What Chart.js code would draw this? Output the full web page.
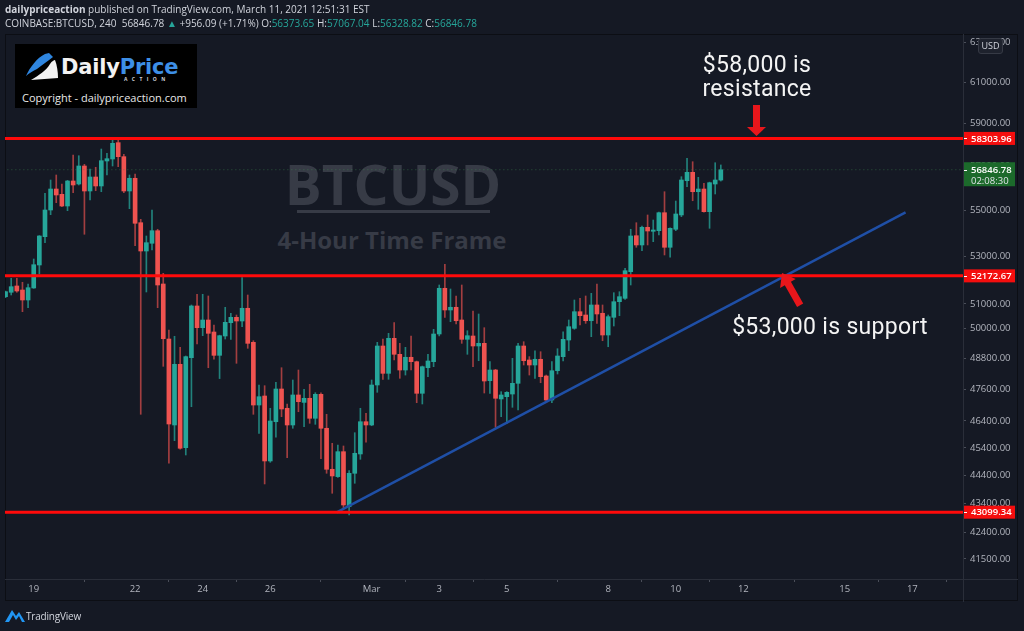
<!DOCTYPE html>
<html>
<head>
<meta charset="utf-8">
<script src="https://cdn.jsdelivr.net/npm/chart.js@4.4.0/dist/chart.umd.min.js"></script>
<style>
  html, body { margin: 0; padding: 0; background: #151924; }
  body { width: 1024px; height: 631px; position: relative; overflow: hidden; font-family: "Open Sans", sans-serif; color: #d1d4dc; }
  .abs { position: absolute; white-space: nowrap; }
  #panel { left: 5px; top: 34px; width: 1013px; height: 567px; border: 1px solid #0c0e14; box-sizing: border-box; z-index: 0; }
  #c { position: absolute; left: 0; top: 0; z-index: 1; }
  .over { z-index: 2; }
  .hdr { font-size: 10px; line-height: 14px; left: 5px; }
  .tv { color: #26a69a; }
  .wm { color: #373b46; font-weight: 700; text-align: center; z-index: 0; }
  .note { font-family: Roboto, sans-serif; font-size: 23px; line-height: 24px; color: #f4f4f4; text-align: center; letter-spacing: 0.3px; }
</style>
</head>
<body>
<div id="panel" class="abs"></div>

<!-- watermark -->
<div class="abs wm" style="left:193px; top:154px; width:400px; font-size:55px; line-height:60px;">BTCUSD</div>
<div class="abs" style="left:297px; top:210px; width:193px; height:3px; background:#373b46; z-index:0;"></div>
<div class="abs wm" style="left:192px; top:225px; width:400px; font-size:24px; line-height:30px;">4-Hour Time Frame</div>

<canvas id="c" width="1024" height="631"></canvas>

<!-- header -->
<div class="abs hdr over" style="top:2px;"><b>dailypriceaction</b> published on TradingView.com, March 11, 2021 12:51:31 EST</div>
<div class="abs hdr over" style="top:16px;">COINBASE:BTCUSD, 240&nbsp; 56846.78 <span class="tv">▲</span> +956.09 (+1.71%) O:<span class="tv">56373.65</span> H:<span class="tv">57067.04</span> L:<span class="tv">56328.82</span> C:<span class="tv">56846.78</span></div>

<!-- logo box -->
<div class="abs over" style="left:15px; top:44px; width:182px; height:64px; background:#000;">
  <svg class="abs" style="left:0; top:0;" width="50" height="42">
    <path d="M11 32 C 15 23, 22 14, 30 10 L 34 9 L 38 13 C 33 17, 27 21, 22 25 C 18 27, 14 29, 11 32 Z" fill="#2f86e0"/>
    <path d="M16 36 C 24 31, 31 27, 35 20 C 37 17, 39 16, 40 16 C 42 21, 43 28, 43 34 Z" fill="#f2f2f2"/>
  </svg>
  <div class="abs" style="left:46px; top:11px; font-family:'DejaVu Sans', sans-serif; font-weight:700; font-size:21px; line-height:24px; letter-spacing:-0.2px;"><span style="color:#f2f2f2">Daily</span><span style="color:#3d8fe6">Price</span></div>
  <div class="abs" style="left:109px; top:32px; font-size:5px; line-height:6px; letter-spacing:4.4px; color:#cfd2d8; font-weight:700;">ACTION</div>
  <div class="abs" style="left:7px; top:47px; font-size:11px; line-height:14px; color:#e8e8e8;">Copyright - dailypriceaction.com</div>
</div>

<!-- annotations -->
<div class="abs note over" style="left:657px; top:53px; width:200px;">$58,000 is<br>resistance</div>
<div class="abs note over" style="left:730px; top:315px; width:200px;">$53,000 is support</div>
<svg class="abs over" style="left:0; top:0;" width="1024" height="631">
  <polygon points="753,105 760,105 760,127 766,127 756.5,136 747,127 753,127" fill="#e8161b"/>
  <polygon points="782,273 795.7,279.1 790.9,281.8 803.2,303.6 797.1,307 784.8,285.2 780.1,287.9" fill="#e8161b"/>
</svg>

<!-- USD badge -->
<div class="abs over" style="left:978px; top:38px; width:25px; height:16px; border:1px solid #363a45; border-radius:3px; background:#1e222d; box-sizing:border-box; font-size:9px; line-height:14px; text-align:center;">USD</div>

<!-- footer -->
<svg class="abs over" style="left:4px; top:607px;" width="22" height="16">
  <path d="M1 15 L8 3 L12 9 L15 5 L21 15 Z" fill="#2196f3"/>
  <path d="M5 15 L9 8 L12 13 L15 9 L18 15 Z" fill="#151924"/>
</svg>
<div class="abs over" style="left:26px; top:609px; font-size:10px; line-height:14px; letter-spacing:-0.2px;">TradingView</div>

<script>
// candle index of first bar (0 = Feb 19, 00:00), 4-hour candles
const firstIndex = -5;

const opens = [
  51302, 51485, 51748, 51580, 51165, 51664, 52633, 53852, 55026, 55968,
  55729, 55204, 56332, 56195, 57019, 55878, 56514, 56105, 57250, 57343,
  58105, 57451, 55878, 56455, 54464, 53232, 53565, 54113, 51831, 49576,
  46247, 48573, 45407, 48834, 50918, 50032, 50344, 49858, 48926, 49697,
  50234, 50454, 50303, 50823, 49443, 47000, 47344, 44921, 46370, 47613,
  46876, 46247, 47383, 47100, 47256, 46498, 47408, 46124, 44620, 44356,
  45260, 43292, 44476, 45176, 46370, 46247, 47767, 49297, 48219, 49604,
  48967, 48349, 48849, 48675, 47447, 48439, 48675, 49777, 51651, 50753,
  50864, 50344, 49564, 49697, 49297, 49403, 47933, 48349, 47230, 47317,
  47420, 47832, 49297, 48742, 48545, 48770, 48116, 47191, 48322, 48874,
  49536, 50006, 50683, 50548, 50315, 50959, 50618, 49737, 50454, 51095,
  51234, 52349, 53895, 53492, 54262, 54087, 54113, 54906, 53392, 54175,
  54805, 56345, 56729, 55846, 55968, 54951, 56195, 56373.65
];
const highs = [
  51538, 52071, 52071, 51903, 51831, 52889, 53900, 55774, 56377, 56606,
  56195, 56360, 57528, 57495, 57097, 56880, 56959, 57807, 57605, 58250,
  58303.96, 57563, 56606, 56651, 54614, 53882, 55026, 54175, 52281, 49938,
  49685, 49245, 48900, 50959, 51401, 51401, 51331, 50141, 49730, 50864,
  50618, 50548, 52096, 51372, 49508, 47767, 47740, 46876, 47870, 48439,
  47039, 47960, 48349, 47601, 47793, 47470, 47470, 46649, 45568, 45506,
  45469, 44570, 45960, 46876, 46686, 47960, 49444, 49576, 49804, 50234,
  49403, 49245, 49697, 48700, 48505, 48967, 49966, 51789, 52661, 51622,
  51331, 51789, 49910, 50712, 50589, 50032, 48675, 48376, 47510, 47510,
  48809, 49403, 49468, 48874, 49109, 49070, 48153, 48675, 49189, 49869,
  50344, 51165, 51236, 51331, 51442, 51831, 50959, 50548, 51468, 51509,
  52491, 54175, 54464, 54320, 54805, 54583, 54930, 55846, 54240, 55427,
  56528, 57375, 57217, 56500, 56227, 56280, 57170, 57067.04
];
const lows = [
  51260, 51372, 51485, 50683, 50848, 51650, 52252, 53591, 54818, 55352,
  55180, 54995, 55801, 56150, 53957, 55472, 55891, 55846, 56606, 57019,
  56987, 55801, 55084, 53461, 46649, 51497, 53275, 50848, 48494, 44838,
  45664, 45350, 45139, 46936, 49376, 49709, 48439, 48770, 48015, 49576,
  49564, 48612, 50070, 49205, 46649, 45937, 44094, 44873, 45790, 46558,
  45041, 46124, 46746, 46183, 46310, 46272, 45004, 44476, 43763, 44330,
  43235, 43000, 44118, 44981, 45605, 46220, 47485, 47987, 47987, 48742,
  48026, 48153, 48349, 47088, 47039, 48089, 48479, 49700, 50454, 50275,
  50181, 49403, 48967, 48479, 48714, 47458, 47447, 46161, 46558, 46310,
  46913, 46811, 48545, 48153, 48026, 47855, 47088, 47088, 48193, 48703,
  49109, 49966, 50141, 50208, 49670, 50208, 49508, 49268, 50100, 50520,
  51193, 51789, 53392, 53245, 53492, 53634, 53926, 53061, 52962, 54113,
  54731, 56073, 55440, 55057, 54930, 54218, 55743, 56328.82
];
const closes = [
  51509, 51718, 51538, 51165, 51676, 52646, 53882, 55026, 55968, 55698,
  55204, 56332, 56150, 57019, 55878, 56514, 56105, 57264, 57357, 58074,
  57451, 55878, 56455, 54438, 53232, 53591, 54113, 51789, 49588, 46284,
  48573, 45385, 48874, 50918, 50032, 50344, 49805, 48926, 49709, 50250,
  50454, 50303, 50823, 49403, 47000, 47317, 44921, 46396, 47613, 46849,
  46247, 47383, 47126, 47256, 46498, 47408, 46124, 44620, 44380, 45260,
  43351, 44476, 45201, 46370, 46247, 47767, 49297, 48219, 49604, 48967,
  48349, 48849, 48675, 47447, 48479, 48703, 49777, 51651, 50753, 50864,
  50315, 49564, 49709, 49297, 49403, 47921, 48349, 47256, 47383, 47485,
  47832, 49297, 48714, 48545, 48770, 48089, 47191, 48322, 48900, 49564,
  50072, 50683, 50520, 50315, 50959, 50589, 49737, 50480, 51095, 51302,
  52391, 53882, 53492, 54262, 54100, 54144, 54906, 53392, 54218, 54849,
  56377, 56729, 55846, 55968, 54951, 56254, 56377, 56846.78
];

// time axis: candle index of each day label
const dayTicks = [0, 18, 30, 42, 60, 72, 84, 102, 114, 126, 144, 156];
const dayLabels = ['19', '22', '24', '26', 'Mar', '3', '5', '8', '10', '12', '15', '17'];

// price axis
const priceTicks = [41500, 42400, 43400, 44400, 45400, 46400, 47600, 48800, 50000, 51000, 53000, 55000, 57000, 59000, 61000, 63000];
const priceMin = 40833;
const priceMax = 63440;

// drawn levels
const levels = [58303.96, 52172.67, 43099.34];
const lastPrice = 56846.78;
const countdown = '02:08:30';
const trendStart = { x: 53.8, y: 43095 };
const trendEnd = { x: 154.8, y: 54924 };

const UP = '#26a69a', DOWN = '#ef5350';
const UP_WICK = 'rgba(38,166,154,0.75)', DOWN_WICK = 'rgba(239,83,80,0.65)';

const wickData = opens.map((o, i) => ({ x: firstIndex + i, y: [lows[i], highs[i]] }));
const bodyData = opens.map((o, i) => ({ x: firstIndex + i, y: [o, closes[i]] }));
const isUp = opens.map((o, i) => closes[i] >= o);

const xMin = -5.1, xMax = 165;

function hLine(v, color, width, dash) {
    return {
        type: 'line',
        data: [{ x: xMin - 1, y: v }, { x: xMax + 1, y: v }],
        borderColor: color,
        borderWidth: width,
        borderDash: dash || [],
        pointRadius: 0,
        order: 0
    };
}

const priceTags = {
    id: 'priceTags',
    afterDraw(chart) {
        const { ctx, chartArea } = chart;
        const y = chart.scales.y;
        const left = chartArea.right;
        ctx.save();
        // extend separators under the axes corner
        ctx.strokeStyle = '#2a2e39';
        ctx.lineWidth = 1;
        ctx.beginPath();
        ctx.moveTo(left + 0.5, chartArea.bottom);
        ctx.lineTo(left + 0.5, 602);
        ctx.moveTo(left, chartArea.bottom + 0.5);
        ctx.lineTo(1018, chartArea.bottom + 0.5);
        ctx.stroke();

        ctx.font = '600 9.5px "Open Sans"';
        ctx.textBaseline = 'middle';
        ctx.textAlign = 'left';
        levels.forEach(v => {
            const py = y.getPixelForValue(v);
            ctx.fillStyle = '#f40e0e';
            ctx.fillRect(left + 1, py - 6.5, 51, 13);
            ctx.fillStyle = '#ffffff';
            ctx.fillRect(left + 1, Math.round(py), 3, 1);
            ctx.fillText(v.toFixed(2), left + 8, py + 0.5);
        });

        const cy = y.getPixelForValue(lastPrice);
        ctx.fillStyle = '#1c6a2b';
        ctx.fillRect(left + 1, cy - 7.5, 51, 24);
        ctx.fillStyle = '#ffffff';
        ctx.fillRect(left + 1, Math.round(cy), 3, 1);
        ctx.fillText(lastPrice.toFixed(2), left + 8, cy + 0.5);
        ctx.font = '9.5px "Open Sans"';
        ctx.fillStyle = '#e0e3e8';
        ctx.fillText(countdown, left + 8, cy + 11.5);
        ctx.restore();
    }
};

new Chart(document.getElementById('c'), {
    type: 'bar',
    data: {
        datasets: [
            hLine(levels[0], '#ff0a0a', 3),
            hLine(levels[1], '#ff0a0a', 3),
            hLine(levels[2], '#ff0a0a', 3),
            {
                type: 'line',
                data: [trendStart, trendEnd],
                borderColor: '#1f4fa6',
                borderWidth: 2.5,
                pointRadius: 0,
                order: 0
            },
            hLine(lastPrice, 'rgba(60,140,80,0.55)', 1, [1, 3]),
            {
                data: bodyData,
                backgroundColor: ctx => isUp[ctx.dataIndex] ? UP : DOWN,
                barThickness: 4,
                minBarLength: 1,
                grouped: false,
                order: 1
            },
            {
                data: wickData,
                backgroundColor: ctx => isUp[ctx.dataIndex] ? UP_WICK : DOWN_WICK,
                barThickness: 1,
                grouped: false,
                order: 2
            }
        ]
    },
    options: {
        responsive: false,
        devicePixelRatio: 1,
        animation: false,
        layout: { padding: { left: 5, top: 34, right: 5, bottom: 29 } },
        plugins: {
            legend: { display: false },
            tooltip: { enabled: false }
        },
        scales: {
            x: {
                type: 'linear',
                min: xMin,
                max: xMax,
                offset: false,
                afterBuildTicks: s => { s.ticks = dayTicks.map(v => ({ value: v })); },
                afterFit: s => { s.height = 23; },
                ticks: {
                    autoSkip: false,
                    maxRotation: 0,
                    padding: 2,
                    color: '#b2b5be',
                    font: { family: 'Open Sans', size: 9.5 },
                    callback: (v, i) => dayLabels[i]
                },
                grid: { drawOnChartArea: false, drawTicks: true, tickLength: 3, color: '#4a4e59' },
                border: { display: true, color: '#2a2e39' }
            },
            y: {
                type: 'logarithmic',
                position: 'right',
                min: priceMin,
                max: priceMax,
                afterBuildTicks: s => { s.ticks = priceTicks.map(v => ({ value: v })); },
                afterFit: s => { s.width = 56; },
                ticks: {
                    autoSkip: false,
                    padding: 4,
                    color: '#b2b5be',
                    font: { family: 'Open Sans', size: 9.5 },
                    callback: v => Number(v).toFixed(2)
                },
                grid: { drawOnChartArea: false, drawTicks: true, tickLength: 3, color: '#4a4e59' },
                border: { display: true, color: '#2a2e39' }
            }
        }
    },
    plugins: [priceTags]
});
</script>
</body>
</html>
